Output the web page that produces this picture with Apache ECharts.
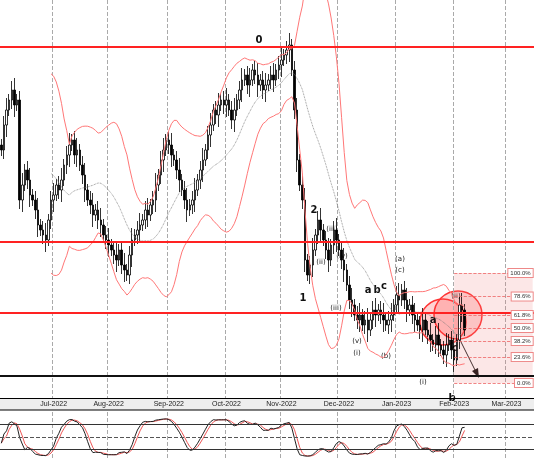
<!DOCTYPE html>
<html><head><meta charset="utf-8">
<script src="https://cdn.jsdelivr.net/npm/echarts@6/dist/echarts.min.js"></script>
<style>html,body{margin:0;padding:0;background:#fff}#container{width:534px;height:462px}</style>
</head><body><div id="container"></div>
<script>
var myChart = echarts.init(document.getElementById('container'));

// daily closes (chart units)
var closes = [250, 275, 290, 300, 310, 295, 300, 200,
  215, 230, 220, 205, 200, 190,
  175, 170, 165, 160, 180, 200,
  205, 215, 210, 220, 235, 245, 255, 260, 245, 250,
  235, 225, 210, 200, 195, 185, 190, 180, 175, 165, 160,
  155, 150, 145, 140, 150, 135, 130, 125, 145, 160,
  165, 170, 175, 180, 190, 185, 195, 200, 215, 225,
  240, 250, 260, 255, 245, 240, 230,
  220, 210, 200, 190, 195, 200, 210, 220, 230, 240,
  250, 265, 275, 290, 285, 295, 300, 295, 300, 290, 280,
  290, 300, 310, 320, 325, 315, 320, 330, 325, 315, 320, 310,
  315, 320, 325, 320, 330, 335, 340, 345, 350, 355,
  330, 290, 240, 215, 200, 140, 125,
  135, 150, 165, 180, 170, 160, 150, 140, 155, 170,
  160, 150, 140, 130, 115, 100, 95, 85, 80, 85, 75, 80, 70,
  80, 90, 85, 90, 85, 80, 75, 80, 85, 95, 105, 100,
  110, 100, 90, 95, 85, 80, 75, 70, 80, 70, 65, 60, 55,
  65, 55, 50, 45, 55, 60, 50, 40, 60, 95, 90, 70];
var hLevels = [353, 158, 87];
var supportLevel = 24;
var fibLevels = [100, 78.6, 61.8, 50, 38.2, 23.6, 0];
var fibTop = 127, fibBottom = 17;

// trading-day categories
var dates = [];
var d = new Date(Date.UTC(2022, 5, 3));
var end = new Date(Date.UTC(2023, 2, 16));
while (d < end) {
  if (d.getUTCDay() > 0 && d.getUTCDay() < 6) dates.push(d.toISOString().slice(0, 10));
  d = new Date(d.getTime() + 86400000);
}
var monthNames = ['Jan','Feb','Mar','Apr','May','Jun','Jul','Aug','Sep','Oct','Nov','Dec'];
function isMonthStart(i) {
  return i > 0 && dates[i].slice(5, 7) !== dates[i - 1].slice(5, 7);
}

var ohlc = closes.map(function (c, i) {
  var o = i ? closes[i - 1] : c + 5;
  var wick = 6 + (i % 3) * 3;
  return [o, c, Math.min(o, c) - wick, Math.max(o, c) + wick];
});

// bollinger 20,2
var mid = [], up = [], lo = [];
closes.forEach(function (c, i) {
  if (i < 19) { mid.push(null); up.push(null); lo.push(null); return; }
  var s = closes.slice(i - 19, i + 1);
  var m = s.reduce(function (a, b) { return a + b; }, 0) / 20;
  var sd = Math.sqrt(s.reduce(function (a, b) { return a + (b - m) * (b - m); }, 0) / 20);
  mid.push(m); up.push(m + 2 * sd); lo.push(m - 2 * sd);
});

// stochastic 14,3,3
var rawK = ohlc.map(function (v, i) {
  var s = ohlc.slice(Math.max(0, i - 13), i + 1);
  var h = Math.max.apply(null, s.map(function (x) { return x[3]; }));
  var l = Math.min.apply(null, s.map(function (x) { return x[2]; }));
  return h === l ? 50 : (v[1] - l) / (h - l) * 100;
});
function sma(a, n) {
  return a.map(function (v, i) {
    var s = a.slice(Math.max(0, i - n + 1), i + 1);
    return s.reduce(function (x, y) { return x + y; }, 0) / s.length;
  });
}
var stK = sma(rawK, 3), stD = sma(stK, 3);

var fibStart = dates[173], fibEnd = dates[dates.length - 1];
var fibLines = fibLevels.map(function (p) {
  var y = fibBottom + (fibTop - fibBottom) * p / 100;
  return [{ coord: [fibStart, y] }, { coord: [fibEnd, y], label: { show: true, position: 'insideEndTop', formatter: p.toFixed(1) + '%', fontSize: 6, color: '#333', backgroundColor: '#fff', borderColor: '#e88', borderWidth: 1, padding: [1, 2], distance: [0, -4] } }];
});

var labels = [['0', 259, 40], ['1', 303, 298], ['2', 314, 210], ['b', 452, 398], ['c', 455, 348],
  ['(iii)', 332, 229], ['(iv)', 342, 256], ['(v)', 357, 341], ['(i)', 357, 353], ['(ii)', 321, 262],
  ['(iii)', 336, 308], ['a', 368, 290], ['b', 377, 290], ['c', 384, 286], ['(b)', 386, 356],
  ['(c)', 400, 270], ['(a)', 400, 259], ['(i)', 423, 382], ['(ii)', 456, 296], ['a', 433, 320]];

option = {
  animation: false,
  backgroundColor: '#fff',
  grid: [
    { left: 0, right: 0, top: 0, height: 398 },
    { left: 0, right: 0, top: 412, height: 48 }
  ],
  xAxis: [
    { type: 'category', data: dates, gridIndex: 0, boundaryGap: true,
      axisLine: { lineStyle: { color: '#000', width: 1 } }, axisTick: { show: false },
      axisLabel: { interval: function (i) { return isMonthStart(i); }, fontSize: 7, color: '#222', margin: 3,
        formatter: function (v) { return monthNames[+v.slice(5, 7) - 1] + '-' + v.slice(0, 4); } },
      splitLine: { show: true, interval: function (i) { return isMonthStart(i); }, lineStyle: { color: '#aaa', type: 'dashed' } } },
    { type: 'category', data: dates, gridIndex: 1, boundaryGap: true,
      axisLine: { show: false }, axisTick: { show: false }, axisLabel: { show: false },
      splitLine: { show: true, interval: function (i) { return isMonthStart(i); }, lineStyle: { color: '#aaa', type: 'dashed' } } }
  ],
  yAxis: [
    { type: 'value', gridIndex: 0, min: 2, max: 400, show: false, splitLine: { show: false } },
    { type: 'value', gridIndex: 1, min: -5, max: 110, show: false, splitLine: { show: false } }
  ],
  graphic: [
    { type: 'rect', shape: { x: 0, y: 398, width: 534, height: 12 }, style: { fill: '#eee' }, z: -1 },
    { type: 'line', shape: { x1: 0, y1: 410, x2: 534, y2: 410 }, style: { stroke: '#000', lineWidth: 1 } },
    { type: 'circle', shape: { cx: 443, cy: 322, r: 23 }, style: { fill: 'rgba(255,80,80,0.25)', stroke: '#f33', lineWidth: 1.5 } },
    { type: 'circle', shape: { cx: 458, cy: 315, r: 24 }, style: { fill: 'rgba(255,80,80,0.25)', stroke: '#f33', lineWidth: 1.5 } },
    { type: 'line', shape: { x1: 460, y1: 340, x2: 476, y2: 372 }, style: { stroke: '#222', lineWidth: 1 } },
    { type: 'polygon', shape: { points: [[479, 378], [472, 371], [478, 368]] }, style: { fill: '#111' } }
  ].concat(labels.map(function (l) {
    return { type: 'text', x: l[1], y: l[2], style: { text: l[0], fontSize: l[0].length > 1 ? 7 : 10, fontFamily: 'DejaVu Sans', fontWeight: l[0].length > 1 ? 'normal' : 'bold', fill: '#111', align: 'center', verticalAlign: 'middle' } };
  })),
  series: [
    { type: 'line', data: up, xAxisIndex: 0, yAxisIndex: 0, symbol: 'none', lineStyle: { color: '#f77', width: 1 } },
    { type: 'line', data: lo, xAxisIndex: 0, yAxisIndex: 0, symbol: 'none', lineStyle: { color: '#f77', width: 1 } },
    { type: 'line', data: mid, xAxisIndex: 0, yAxisIndex: 0, symbol: 'none', lineStyle: { color: '#777', width: 0.8, type: 'dotted' } },
    { type: 'candlestick', data: ohlc, xAxisIndex: 0, yAxisIndex: 0, barWidth: 2,
      itemStyle: { color: '#fff', color0: '#000', borderColor: '#000', borderColor0: '#000', borderWidth: 0.8 },
      markLine: { symbol: 'none', silent: true, label: { show: false },
        data: hLevels.map(function (v) { return { yAxis: v, lineStyle: { color: '#f22', width: 2, type: 'solid' } }; })
          .concat([{ yAxis: supportLevel, lineStyle: { color: '#111', width: 2, type: 'solid' } }])
          .concat(fibLines.map(function (l) { l[0].lineStyle = { color: '#e66', width: 0.8, type: 'dashed' }; return l; })) },
      markArea: { silent: true, itemStyle: { color: 'rgba(240,120,120,0.18)' },
        data: [[{ coord: [fibStart, fibTop] }, { coord: [fibEnd, fibBottom] }]] } },
    { type: 'line', data: stD, xAxisIndex: 1, yAxisIndex: 1, symbol: 'none', lineStyle: { color: '#e55', width: 1 },
      markLine: { symbol: 'none', silent: true, label: { show: false },
        data: [{ yAxis: 80, lineStyle: { color: '#333', type: 'solid', width: 1 } },
               { yAxis: 50, lineStyle: { color: '#555', type: 'dashed', width: 1 } },
               { yAxis: 20, lineStyle: { color: '#333', type: 'solid', width: 1 } }] } },
    { type: 'line', data: stK, xAxisIndex: 1, yAxisIndex: 1, symbol: 'none', lineStyle: { color: '#222', width: 1 } }
  ]
};
myChart.setOption(option);
</script></body></html>
